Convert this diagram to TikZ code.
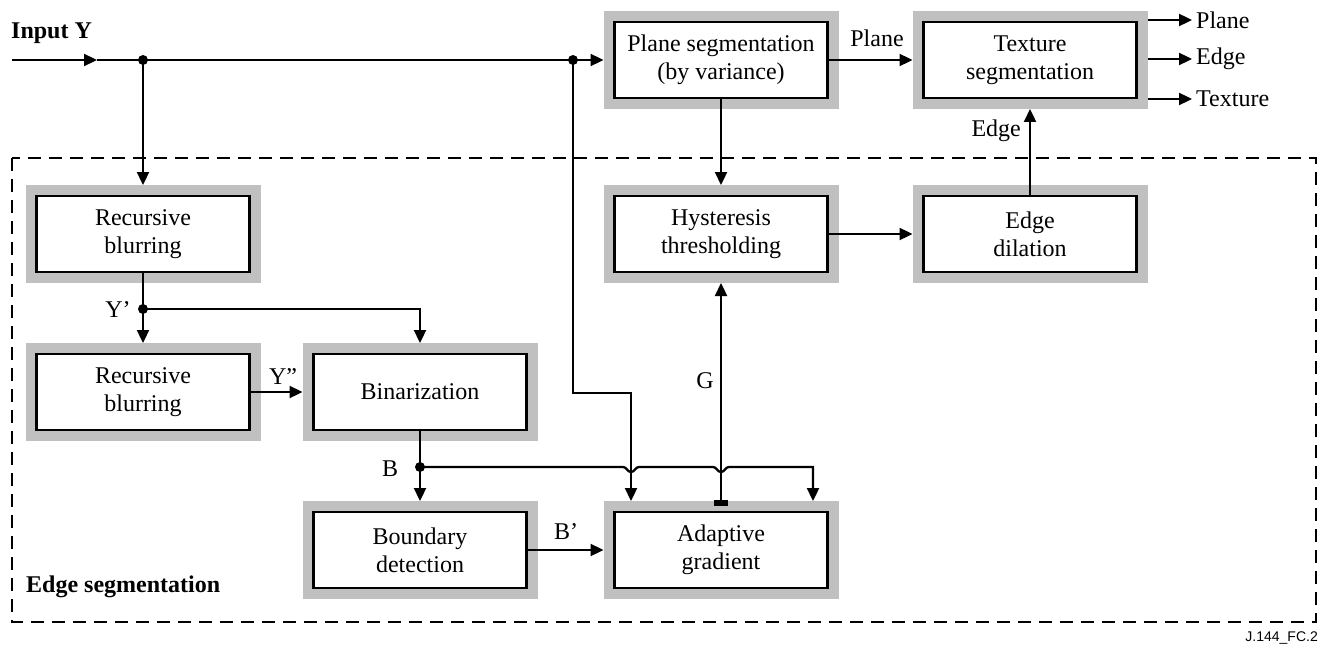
\documentclass[tikz,border=0pt]{standalone}
\usepackage{fontspec}
\setmainfont{Liberation Serif}
\newfontfamily\labsans{Liberation Sans}
\usetikzlibrary{arrows.meta,calc}
\definecolor{boxgray}{RGB}{192,192,192}
\begin{document}
\begin{tikzpicture}[x=1pt,y=-1pt,
  txt/.style={font=\fontsize{24}{28}\selectfont},
  bld/.style={font=\fontsize{24}{28}\selectfont\bfseries},
  blk/.style={txt, draw=black, line width=2.5pt, fill=white, minimum width=213pt,
    minimum height=76pt, align=center, inner sep=0pt, outer sep=11pt,
    preaction={draw=boxgray, line width=22pt}},
  con/.style={line width=2.3pt},
  arr/.style={con, -{Triangle[length=13pt,width=12pt]}},
  dot/.style={circle, fill=black, inner sep=0pt, minimum size=10pt},
  lab/.style={txt, inner sep=0pt},
  frame/.style={line width=2pt, dash pattern=on 13pt off 8pt}]
\useasboundingbox (0,0) rectangle (1322,650);

% dashed frame
\coordinate (f1) at (12,158);
\coordinate (f2) at (1316,622);
\draw[frame] (f1) rectangle (f2);

% blocks
\node[blk] (pla) at (721,60) {Plane segmentation\\(by variance)};
\node[blk] (tex) at (1030,60) {Texture\\segmentation};
\node[blk] (rb1) at (143,234) {Recursive\\blurring};
\node[blk] (hys) at (721,234) {Hysteresis\\thresholding};
\node[blk] (dil) at (1030,234) {Edge\\dilation};
\node[blk] (rb2) at (143,392) {Recursive\\blurring};
\node[blk] (bin) at (420,392) {Binarization};
\node[blk] (bnd) at (420,550) {Boundary\\detection};
\node[blk] (gra) at (721,550) {Adaptive\\gradient};

% junction dots and helper coordinates
\coordinate (inp) at (12,60);
\coordinate (mid) at (97,60);
\node[dot] (d1) at (143,60) {};
\node[dot] (d2) at (573,60) {};
\node[dot] (d3) at (143,309) {};
\node[dot] (d4) at (420,467) {};
\coordinate (k1) at (573,393);
\coordinate (k2) at (631,393);
\coordinate (h1) at (k2 |- d4);
\coordinate (h2) at (gra.north |- d4);
\coordinate (bend) at (813,467);

% input line
\draw[arr] (inp) -- (mid);
\draw[con] (mid) -- (d1.center) -- (d2.center);
\draw[arr] (d2.center) -- (pla.west);
\draw[arr] (d1.center) -- (rb1.north);

% top row
\draw[arr, shorten <=-11pt] (pla.east) -- (tex.west);
\draw[arr, shorten <=-11pt] (pla.south) -- (hys.north);
\draw[arr, shorten <=-11pt] (hys.east) -- (dil.west);
\draw[arr, shorten <=-11pt] (dil.north) -- (tex.south);

% outputs
\node[lab, anchor=west] (o1) at (1196,20) {Plane};
\node[lab, anchor=west] (o2) at (1196,59) {Edge};
\node[lab, anchor=west] (o3) at (1196,99) {Texture};
\coordinate (e1) at (tex.east |- 0,20);
\coordinate (e2) at (tex.east |- 0,59);
\coordinate (e3) at (tex.east |- 0,99);
\draw[arr, shorten >=4pt] (e1) -- (e1 -| o1.west);
\draw[arr, shorten >=4pt] (e2) -- (e2 -| o2.west);
\draw[arr, shorten >=4pt] (e3) -- (e3 -| o3.west);

% left chain
\draw[con, shorten <=-11pt] (rb1.south) -- (d3.center);
\draw[arr] (d3.center) -- (rb2.north);
\draw[arr] (d3.center) -| (bin.north);
\draw[arr, shorten <=-11pt] (rb2.east) -- (bin.west);
\draw[con, shorten <=-11pt] (bin.south) -- (d4.center);
\draw[arr] (d4.center) -- (bnd.north);
\draw[arr, shorten <=-11pt] (bnd.east) -- (gra.west);

% Y branch to gradient
\draw[arr] (d2.center) -- (k1) -- (k2) -- (k2 |- gra.north);

% G line
\draw[arr] (gra.north) -- (hys.south);
\fill ([xshift=-7pt,yshift=1pt]gra.north) rectangle ([xshift=7pt,yshift=-5pt]gra.north);

% B line with hops
\draw[arr] (d4.center) -- ([xshift=-8pt]h1)
  .. controls ([xshift=-4pt]h1) and ([xshift=-4pt,yshift=-5pt]h1) .. ([yshift=-5pt]h1)
  .. controls ([xshift=4pt,yshift=-5pt]h1) and ([xshift=4pt]h1) .. ([xshift=8pt]h1)
  -- ([xshift=-8pt]h2)
  .. controls ([xshift=-4pt]h2) and ([xshift=-4pt,yshift=-5pt]h2) .. ([yshift=-5pt]h2)
  .. controls ([xshift=4pt,yshift=-5pt]h2) and ([xshift=4pt]h2) .. ([xshift=8pt]h2)
  -- (bend) -- (bend |- gra.north);

% labels
\node[bld, inner sep=0pt, anchor=west] (linp) at (11,33) {Input Y};
\node[bld, inner sep=0pt, anchor=west] (ledg) at (26,587) {Edge segmentation};
\node[lab] (lpl) at (877,38) {Plane};
\node[lab, anchor=east] (led) at (1021,131) {Edge};
\node[lab] (ly1) at (118,310) {Y’};
\node[lab] (ly2) at (283,377) {Y”};
\node[lab] (lb) at (390,469) {B};
\node[lab] (lb2) at (566,532) {B’};
\node[lab] (lg) at (705,381) {G};
\node[font=\labsans\fontsize{14}{16}\selectfont, inner sep=0pt, anchor=east] (fig) at (1318,638) {J.144\_FC.2};
\end{tikzpicture}
\end{document}
